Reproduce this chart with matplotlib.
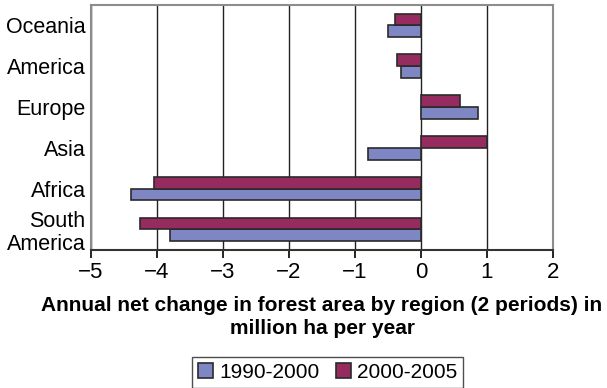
import numpy as np
import matplotlib.pyplot as plt

plt.rcParams['font.family'] = ['Liberation Sans', 'DejaVu Sans']

regions = ['Oceania', 'America', 'Europe', 'Asia', 'Africa', 'South\nAmerica']
change_1990_2000 = [-0.50, -0.30, 0.86, -0.81, -4.39, -3.80]
change_2000_2005 = [-0.40, -0.36, 0.59, 1.00, -4.05, -4.26]
x_ticks = [-5, -4, -3, -2, -1, 0, 1, 2]

fig = plt.figure(figsize=(6.07, 3.88), dpi=100)
ax = fig.add_axes([0.150, 0.356, 0.761, 0.631])

y = np.arange(len(regions))
h = 0.29
ax.barh(y + h / 2, change_1990_2000, height=h, color='#7f86c4',
        edgecolor='#2a2a2a', linewidth=1.2, label='1990-2000', zorder=3)
ax.barh(y - h / 2, change_2000_2005, height=h, color='#952b5e',
        edgecolor='#2a2a2a', linewidth=1.2, label='2000-2005', zorder=3)

ax.set_xlim(-5, 2)
ax.set_ylim(len(regions) - 0.5, -0.5)
ax.set_xticks(x_ticks)
ax.set_yticks(y)
ax.set_yticklabels(regions, fontsize=15.5, linespacing=1.15)
ax.tick_params(axis='y', length=0, pad=4)
ax.tick_params(axis='x', labelsize=16, length=6, width=1.2, direction='out', pad=3)
ax.xaxis.grid(True, color='#222222', linewidth=1.0, zorder=0)
ax.set_axisbelow(True)

for side in ['left', 'top', 'right']:
    ax.spines[side].set_color('#8c8c8c')
    ax.spines[side].set_linewidth(1.5)
ax.spines['bottom'].set_color('#333333')
ax.spines['bottom'].set_linewidth(1.5)

ax.set_xlabel('Annual net change in forest area by region (2 periods) in\nmillion ha per year',
              fontsize=15, fontweight='bold', labelpad=9, linespacing=1.25)

leg = fig.legend(loc='center', bbox_to_anchor=(0.54, 0.040), ncol=2, fontsize=15,
                 frameon=True, fancybox=False, handlelength=0.7, handleheight=0.7,
                 handletextpad=0.3, columnspacing=0.8, borderpad=0.3)
leg.get_frame().set_edgecolor('#222222')
leg.get_frame().set_linewidth(1.0)

fig.savefig('out.png', dpi=100)
